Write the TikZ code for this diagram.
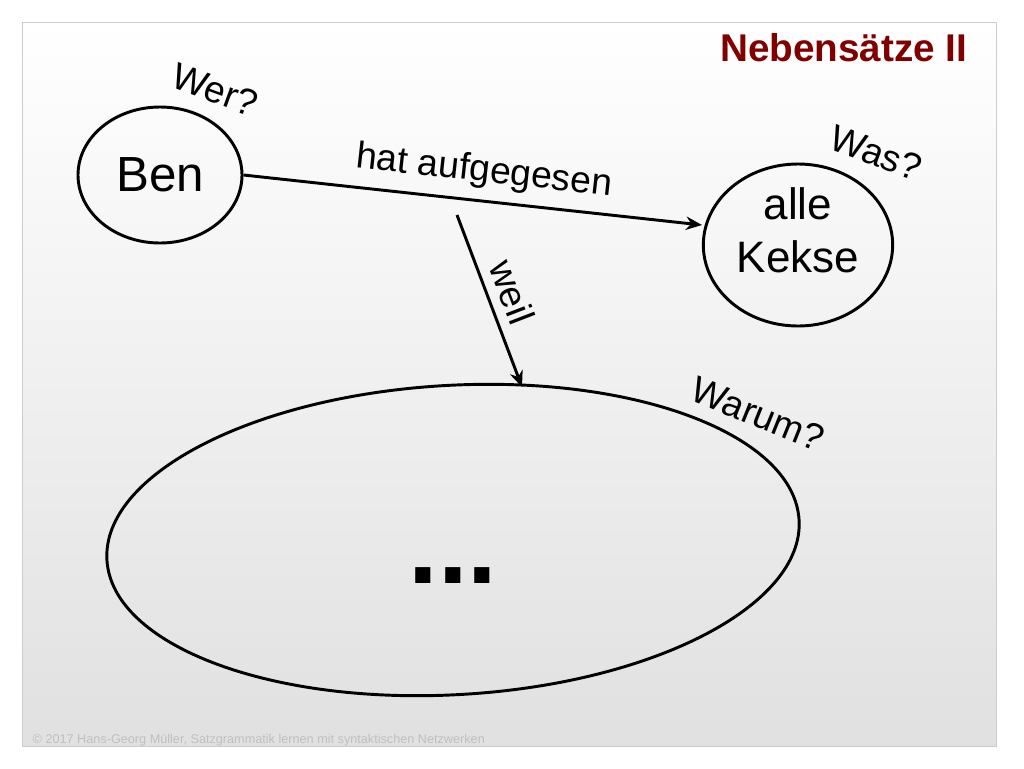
\documentclass[tikz,border=0pt]{standalone}
\usepackage{fontspec}
\setmainfont{Liberation Sans}
\usetikzlibrary{shapes.geometric,arrows.meta}
\definecolor{titlered}{RGB}{128,0,0}
\tikzset{
  circ/.style={draw, line width=2.2pt, ellipse, inner sep=0pt},
  lab/.style={font=\fontsize{28}{30}\selectfont},
  arr/.style={line width=2.2pt, -{Stealth[length=12pt,width=10pt]}}
}
\begin{document}
\begin{tikzpicture}[x=0.75pt,y=-0.75pt]
\useasboundingbox (0,0) rectangle (1024,768);
\shade[top color=white,bottom color=black!12] (22,22) rectangle (996,746);
\draw[black!20] (22,22) rectangle (996,746);
\node[font=\bfseries\fontsize{29}{32}\selectfont, text=titlered, anchor=east] (title) at (972,48) {Nebensätze II};
\node[circ, minimum width=123pt, minimum height=102pt, font=\fontsize{37}{40}\selectfont] (ben) at (160,175) {Ben};
\node[circ, minimum width=142pt, minimum height=106pt, align=center, font=\fontsize{33}{40}\selectfont, text depth=22pt] (kekse) at (798,245) {alle\\Kekse};
\node[draw, line width=2.2pt, ellipse, minimum width=520pt, minimum height=232pt, rotate=3.3] (big) at (453,540) {};
\node[font=\bfseries\fontsize{80}{80}\selectfont] (dots) at (453,576) {...};
\coordinate (kin) at (702,225);
\draw[arr] (ben.east) -- (kin);
\coordinate (wstart) at (457,215);
\coordinate (wend) at (522,387);
\draw[arr] (wstart) -- (wend);
\node[lab, rotate=-6.3] (hat) at (484,172) {hat aufgegesen};
\node[lab, rotate=-69] (weil) at (512,292) {weil};
\node[lab, rotate=-20] (wer) at (215,90) {Wer?};
\node[lab, rotate=-20] (was) at (876,153) {Was?};
\node[lab, rotate=-22] (warum) at (758,414) {Warum?};
\node[font=\fontsize{9.5}{10}\selectfont, text=black!25, anchor=west] (foot) at (28,740) {© 2017 Hans-Georg Müller, Satzgrammatik lernen mit syntaktischen Netzwerken};
\end{tikzpicture}
\end{document}
